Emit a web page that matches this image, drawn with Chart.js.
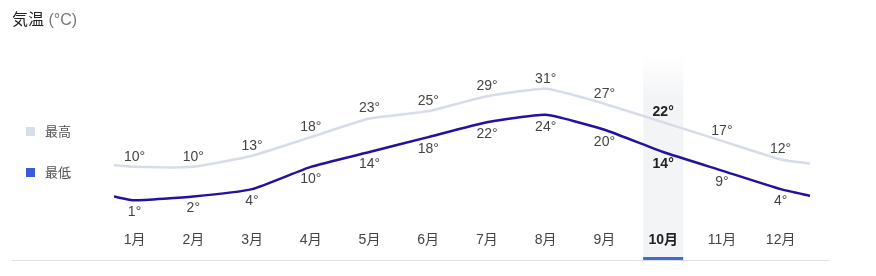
<!DOCTYPE html>
<html>
<head>
<meta charset="utf-8">
<script src="https://cdn.jsdelivr.net/npm/chart.js@4"></script>
<style>
  html, body { margin: 0; padding: 0; background: #fff; }
  #wrap { position: relative; width: 876px; height: 276px; }
</style>
</head>
<body>
<div id="wrap"><canvas id="tempChart" width="876" height="276"></canvas></div>
<script>
// months and temperatures
var months = ['1月', '2月', '3月', '4月', '5月', '6月', '7月', '8月', '9月', '10月', '11月', '12月'];
var highTemps = [10, 10, 13, 18, 23, 25, 29, 31, 27, 22, 17, 12];
var lowTemps = [1, 2, 4, 10, 14, 18, 22, 24, 20, 14, 9, 4];
// where the lines run out past the first / last month
var highEdge = [10.5, 10.9];
var lowEdge = [2, 2.2];
var selectedMonth = 9; // 10月

var FONT = '"Liberation Sans", "Noto Sans CJK JP", sans-serif';

function buildPoints(values, edge) {
    var pts = [{ x: 0.65, y: edge[0] }];
    values.forEach(function (v, i) { pts.push({ x: i + 1, y: v }); });
    pts.push({ x: 12.5, y: edge[1] });
    return pts;
}

// background band + underline for the selected month, title, legend, labels
var decorPlugin = {
    id: 'decor',
    beforeDatasetsDraw: function (chart) {
        var c = chart.ctx, xs = chart.scales.x;
        var cx = xs.getPixelForValue(selectedMonth + 1);
        var g = c.createLinearGradient(0, 55, 0, 100);
        g.addColorStop(0, 'rgba(243,244,246,0)');
        g.addColorStop(1, 'rgba(243,244,246,1)');
        c.save();
        c.fillStyle = g;
        c.fillRect(cx - 20, 55, 40, 203);
        c.restore();
    },
    afterDatasetsDraw: function (chart) {
        var c = chart.ctx, xs = chart.scales.x, ys = chart.scales.y;
        c.save();
        // title
        c.textBaseline = 'middle';
        c.textAlign = 'left';
        c.font = '16px ' + FONT;
        c.fillStyle = '#222';
        c.fillText('気温', 12, 21);
        var w = c.measureText('気温 ').width;
        c.fillStyle = '#777';
        c.fillText('(°C)', 12 + w, 21);

        // legend
        c.font = '13px ' + FONT;
        c.fillStyle = '#d9deeb';
        c.fillRect(26, 127, 9, 9);
        c.fillStyle = '#3a5bd9';
        c.fillRect(26, 168, 9, 9);
        c.fillStyle = '#555';
        c.fillText('最高', 45, 132);
        c.fillText('最低', 45, 173);

        // value labels
        c.textAlign = 'center';
        months.forEach(function (m, i) {
            var x = xs.getPixelForValue(i + 1);
            var sel = i === selectedMonth;
            c.font = (sel ? 'bold ' : '') + '14px ' + FONT;
            c.fillStyle = sel ? '#222' : '#444';
            c.fillText(highTemps[i] + '°', x, ys.getPixelForValue(highTemps[i]) - 10);
            c.fillText(lowTemps[i] + '°', x, ys.getPixelForValue(lowTemps[i]) + 12);
            c.fillText(m, x, 240);
        });

        // bottom rule and selected underline
        c.fillStyle = '#dedede';
        c.fillRect(12, 260, 817, 1);
        var cx = xs.getPixelForValue(selectedMonth + 1);
        c.fillStyle = '#3f6ad8';
        c.fillRect(cx - 20, 257, 40, 3);
        c.restore();
    }
};

var ctx = document.getElementById('tempChart').getContext('2d');

var tempChart = new Chart(ctx, {
    type: 'line',
    data: {
        datasets: [
            {
                label: '最高',
                data: buildPoints(highTemps, highEdge),
                borderColor: '#d7dce9',
                borderWidth: 2.5,
                pointRadius: 0,
                tension: 0.15,
                fill: false
            },
            {
                label: '最低',
                data: buildPoints(lowTemps, lowEdge),
                borderColor: '#22129f',
                borderWidth: 2.5,
                pointRadius: 0,
                tension: 0.15,
                fill: false
            }
        ]
    },
    options: {
        responsive: false,
        animation: false,
        events: [],
        layout: {
            padding: { left: 114, right: 66, top: 74, bottom: 72 }
        },
        scales: {
            x: { type: 'linear', min: 0.65, max: 12.5, display: false },
            y: { min: 0, max: 35, display: false }
        },
        plugins: {
            legend: { display: false },
            tooltip: { enabled: false }
        }
    },
    plugins: [decorPlugin]
});
</script>
</body>
</html>
